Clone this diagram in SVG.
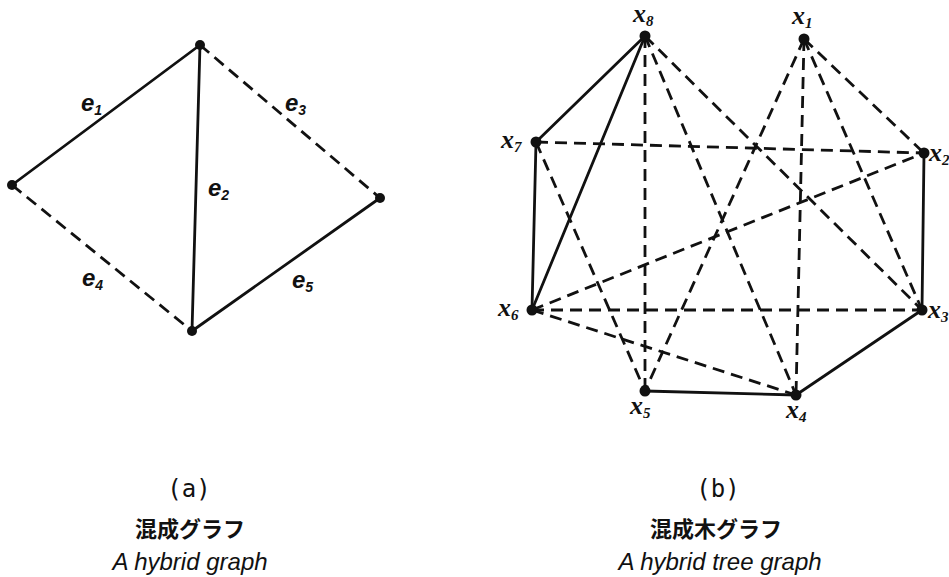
<svg xmlns="http://www.w3.org/2000/svg" width="949" height="577" viewBox="0 0 949 577">
<style>
.s{stroke:#111;stroke-width:2.8;fill:none;stroke-linecap:round}
.d{stroke:#111;stroke-width:2.8;fill:none;stroke-dasharray:12 7}
.dot{fill:#111}
.e{font-family:"Liberation Sans","DejaVu Sans",sans-serif;font-style:italic;font-weight:bold;font-size:24px;fill:#111}
.es{font-size:14px}
.x{font-family:"Liberation Serif","DejaVu Serif",serif;font-style:italic;font-weight:bold;font-size:26px;fill:#111}
.xs{font-size:15px}
.cap{font-family:"DejaVu Sans Mono","Liberation Mono",monospace;font-size:24px;fill:#111;text-anchor:middle}
.jp{font-family:"Noto Sans CJK JP","Noto Sans CJK SC",sans-serif;font-weight:bold;font-size:22px;fill:#111;text-anchor:middle}
.en{font-family:"Liberation Sans","DejaVu Sans",sans-serif;font-style:italic;font-size:24px;fill:#111;text-anchor:middle}
</style>
<rect width="949" height="577" fill="#fff"/>
<g id="connectors-a">
<line class="s" x1="200" y1="45" x2="12" y2="185"/>
<line class="s" x1="200" y1="45" x2="192" y2="331"/>
<line class="d" x1="200" y1="45" x2="380" y2="198"/>
<line class="d" x1="12" y1="185" x2="192" y2="331"/>
<line class="s" x1="192" y1="331" x2="380" y2="198"/>
</g>
<g id="edge-labels-a">
<text class="e" x="81" y="111">e<tspan class="es" dy="4">1</tspan></text>
<text class="e" x="208" y="196">e<tspan class="es" dy="4">2</tspan></text>
<text class="e" x="285" y="111">e<tspan class="es" dy="4">3</tspan></text>
<text class="e" x="82" y="286">e<tspan class="es" dy="4">4</tspan></text>
<text class="e" x="292" y="288">e<tspan class="es" dy="4">5</tspan></text>
</g>
<g id="a-top"><circle class="dot" cx="200" cy="45" r="5"/></g>
<g id="a-left"><circle class="dot" cx="12" cy="185" r="5"/></g>
<g id="a-right"><circle class="dot" cx="380" cy="198" r="5"/></g>
<g id="a-bottom"><circle class="dot" cx="192" cy="331" r="5"/></g>

<g id="connectors-b">
<line class="s" x1="645" y1="36" x2="536" y2="142"/>
<line class="s" x1="645" y1="36" x2="532" y2="310"/>
<line class="s" x1="536" y1="142" x2="532" y2="310"/>
<line class="s" x1="924" y1="153" x2="922" y2="310"/>
<line class="s" x1="922" y1="310" x2="796" y2="395"/>
<line class="s" x1="796" y1="395" x2="645" y2="391"/>
<line class="d" x1="645" y1="36" x2="645" y2="391"/>
<line class="d" x1="645" y1="36" x2="796" y2="395"/>
<line class="d" x1="645" y1="36" x2="922" y2="310"/>
<line class="d" x1="804" y1="39" x2="645" y2="391"/>
<line class="d" x1="804" y1="39" x2="796" y2="395"/>
<line class="d" x1="804" y1="39" x2="922" y2="310"/>
<line class="d" x1="804" y1="39" x2="924" y2="153"/>
<line class="d" x1="536" y1="142" x2="924" y2="153"/>
<line class="d" x1="536" y1="142" x2="645" y2="391"/>
<line class="d" x1="532" y1="310" x2="924" y2="153"/>
<line class="d" x1="532" y1="310" x2="922" y2="310"/>
<line class="d" x1="532" y1="310" x2="796" y2="395"/>
</g>
<g id="x8"><circle class="dot" cx="645" cy="36" r="5.5"/><text class="x" x="633" y="22">x<tspan class="xs" dy="4">8</tspan></text></g>
<g id="x1"><circle class="dot" cx="804" cy="39" r="5.5"/><text class="x" x="792" y="24">x<tspan class="xs" dy="4">1</tspan></text></g>
<g id="x7"><circle class="dot" cx="536" cy="142" r="5.5"/><text class="x" x="501" y="148">x<tspan class="xs" dy="4">7</tspan></text></g>
<g id="x2"><circle class="dot" cx="924" cy="153" r="5.5"/><text class="x" x="929" y="161">x<tspan class="xs" dy="4">2</tspan></text></g>
<g id="x6"><circle class="dot" cx="532" cy="310" r="5.5"/><text class="x" x="498" y="316">x<tspan class="xs" dy="4">6</tspan></text></g>
<g id="x3"><circle class="dot" cx="922" cy="310" r="5.5"/><text class="x" x="928" y="318">x<tspan class="xs" dy="4">3</tspan></text></g>
<g id="x5"><circle class="dot" cx="645" cy="391" r="5.5"/><text class="x" x="630" y="414">x<tspan class="xs" dy="4">5</tspan></text></g>
<g id="x4"><circle class="dot" cx="796" cy="395" r="5.5"/><text class="x" x="786" y="418">x<tspan class="xs" dy="4">4</tspan></text></g>

<g id="caption-a">
<text class="cap" x="189" y="497">(a)</text>
<text class="jp" x="190" y="537">混成グラフ</text>
<text class="en" x="190" y="570">A hybrid graph</text>
</g>
<g id="caption-b">
<text class="cap" x="718" y="497">(b)</text>
<text class="jp" x="716" y="537">混成木グラフ</text>
<text class="en" x="720" y="570">A hybrid tree graph</text>
</g>
</svg>
